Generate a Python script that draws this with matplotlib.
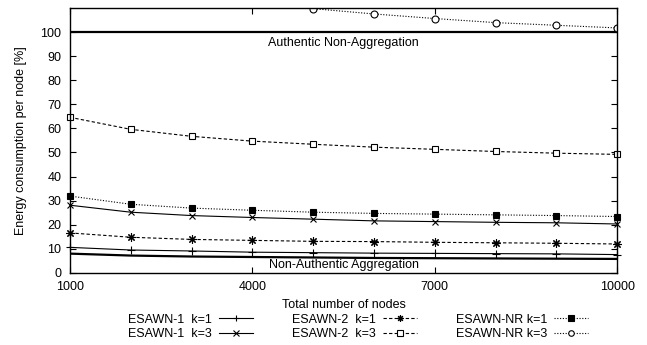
import matplotlib.pyplot as plt

plt.rcParams["font.family"] = ["Liberation Sans", "DejaVu Sans"]
plt.rcParams["font.size"] = 9

# x: total number of nodes
nodes = [1000, 2000, 3000, 4000, 5000, 6000, 7000, 8000, 9000, 10000]

# energy consumption per node [%]
esawn1_k1 = [10.6, 9.5, 9.1, 8.6, 8.4, 8.2, 8.1, 8.0, 7.9, 7.6]
esawn1_k3 = [28.1, 25.2, 23.8, 23.0, 22.3, 21.6, 21.3, 21.0, 20.8, 20.3]
esawn2_k1 = [16.6, 14.8, 13.9, 13.5, 13.1, 13.0, 12.7, 12.5, 12.3, 12.0]
esawn2_k3 = [64.6, 59.6, 56.7, 54.7, 53.4, 52.2, 51.3, 50.4, 49.7, 49.2]
esawnnr_k1 = [31.9, 28.5, 26.9, 26.0, 25.2, 24.7, 24.4, 24.1, 23.8, 23.4]
esawnnr_k3 = [135.0, 122.0, 116.0, 112.5, 109.7, 107.5, 105.6, 103.9, 102.8, 101.7]
non_auth_agg = [8.0, 7.2, 6.8, 6.6, 6.4, 6.2, 6.1, 6.0, 5.9, 5.8]
auth_non_agg = [100] * len(nodes)

fig = plt.figure(figsize=(6.47, 3.45), dpi=100)
ax = fig.add_axes([0.108, 0.209, 0.846, 0.768])

# reference lines
ax.plot(nodes, auth_non_agg, color="black", linewidth=1.6)
ax.plot(nodes, non_auth_agg, color="black", linewidth=1.6)

ax.plot(nodes, esawn1_k1, color="black", lw=0.8, ls="-", marker="+", ms=6,
        mew=0.8, label="ESAWN-1  k=1", clip_on=False)
ax.plot(nodes, esawn1_k3, color="black", lw=0.8, ls="-", marker="x", ms=5,
        mew=0.8, label="ESAWN-1  k=3", clip_on=False)
ax.plot(nodes, esawn2_k1, color="black", lw=0.8, ls=(0, (3, 2)), marker=(8, 2, 0),
        ms=6, mew=0.8, label="ESAWN-2  k=1", clip_on=False)
ax.plot(nodes, esawn2_k3, color="black", lw=0.8, ls=(0, (3, 2)), marker="s", ms=5,
        mfc="white", mew=0.8, label="ESAWN-2  k=3", clip_on=False)
ax.plot(nodes, esawnnr_k1, color="black", lw=0.8, ls=(0, (1, 1.5)), marker="s", ms=5,
        mew=0.8, label="ESAWN-NR k=1", clip_on=False)
ax.plot(nodes, esawnnr_k3, color="black", lw=0.8, ls=(0, (1, 1.5)), marker="o", ms=5,
        mfc="white", mew=0.8, label="ESAWN-NR k=3")

ax.text(5500, 95.5, "Authentic Non-Aggregation", ha="center", va="center")
ax.text(5500, 3.2, "Non-Authentic Aggregation", ha="center", va="center")

ax.set_xlim(1000, 10000)
ax.set_ylim(0, 110)
ax.set_xticks([1000, 4000, 7000, 10000])
ax.set_yticks(range(0, 101, 10))
ax.tick_params(direction="in", length=4, width=0.8, top=True, right=True, pad=6)
for s in ax.spines.values():
    s.set_linewidth(1.0)

ax.set_xlabel("Total number of nodes", labelpad=4)
ax.set_ylabel("Energy consumption per node [%]", labelpad=10)

handles, labels = ax.get_legend_handles_labels()
fig.legend(handles, labels, loc="center left", bbox_to_anchor=(0.186, 0.052), ncol=3,
           frameon=False, markerfirst=False, handlelength=2.7, columnspacing=3.1,
           handletextpad=0.6, labelspacing=0.2, borderpad=0.1, fontsize=9,
           markerscale=0.8)

fig.savefig("out.png", dpi=100)
